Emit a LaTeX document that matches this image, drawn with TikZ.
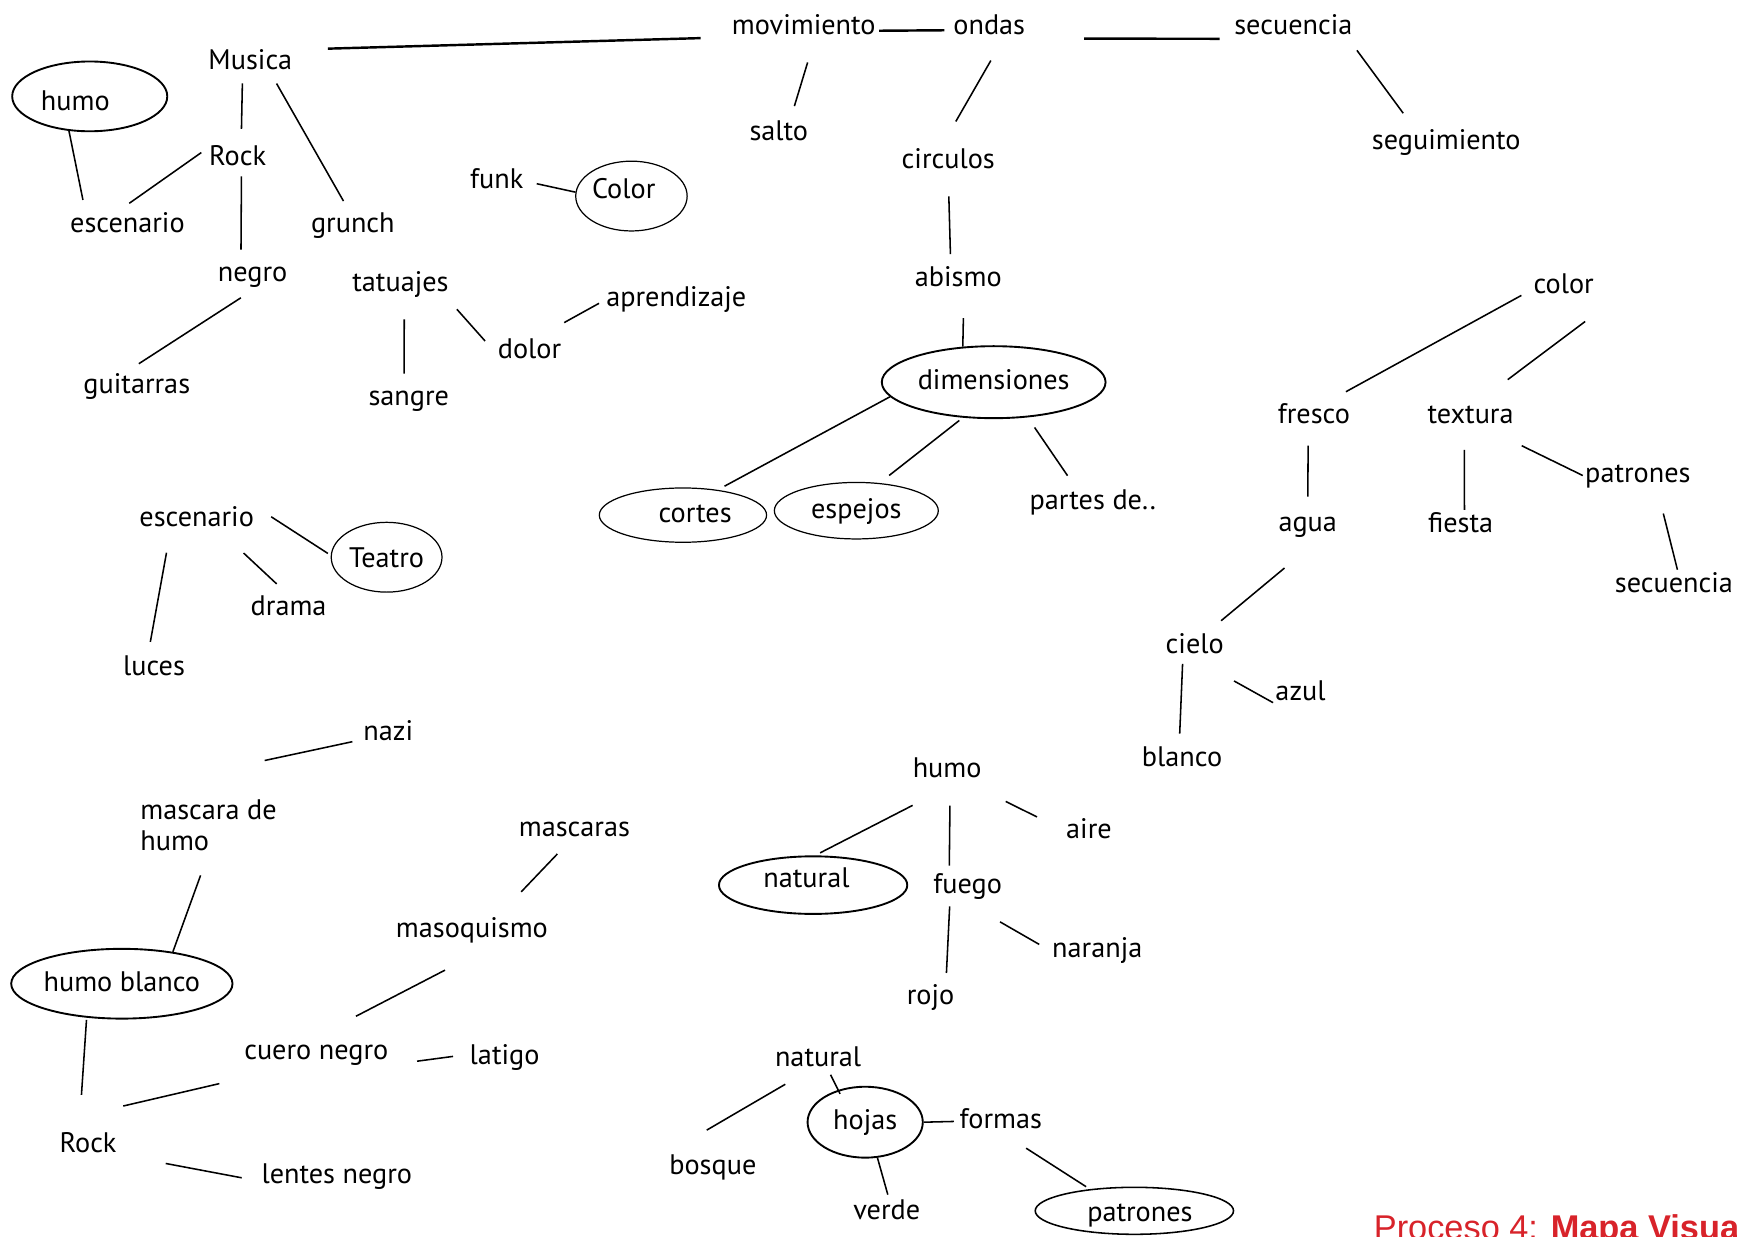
\documentclass[tikz,border=0pt]{standalone}
\usepackage{fontspec}
\setmainfont{PT Sans}
\newfontfamily\titlefont{Liberation Sans}
\usetikzlibrary{shapes.geometric}
\definecolor{titlered}{RGB}{216,35,42}

\tikzset{
	word/.style={font=\fontsize{25.5}{28.4}\selectfont, inner sep=2pt, text height=18.5pt, text depth=5pt, anchor=base},
	oval/.style={draw, ellipse, line width=1.1pt, inner sep=0pt, font=\fontsize{25.5}{28.4}\selectfont, text height=18.5pt, text depth=5pt},
	bold oval/.style={oval, line width=1.7pt},
	link/.style={line width=1.4pt},
	heavy/.style={line width=2.2pt}
}

\begin{document}
\begin{tikzpicture}[x=1pt, y=-1pt]
	\path[use as bounding box, fill=white] (0,0) rectangle (1568,1116);

	\node[word] (musica) at (226,63) {Musica};
	\node[bold oval, minimum width=140pt, minimum height=63pt, text height=31pt] (humo) at (81,87) {humo\hspace*{26pt}};
	\node[word] (rock) at (214.5,149) {Rock};
	\node[word] (escenario) at (115,210) {escenario};
	\node[word] (grunch) at (318.5,210) {grunch};
	\node[word] (negro) at (228,254) {negro};
	\node[word] (guitarras) at (123.5,355) {guitarras};
	\node[word] (tatuajes) at (361.5,263) {tatuajes};
	\node[word] (sangre) at (369,366) {sangre};
	\node[word] (dolor) at (478,324) {dolor};
	\node[word] (aprendizaje) at (610.5,277) {aprendizaje};
	\node[word] (funk) at (448.5,170) {funk};
	\node[oval, minimum width=93pt, minimum height=63pt, text depth=14pt] (colorb) at (570,177) {Color\hspace*{14pt}};

	\node[word] (movimiento) at (725.5,31) {movimiento};
	\node[word] (ondas) at (893,31) {ondas};
	\node[word] (secuencia) at (1167.5,31) {secuencia};
	\node[word] (salto) at (703,127) {salto};
	\node[word] (circulos) at (856,152) {circulos};
	\node[word] (seguimiento) at (1305.5,135) {seguimiento};
	\node[word] (abismo) at (865,259) {abismo};
	\node[bold oval, minimum width=202pt, minimum height=65pt] (dimensiones) at (897,345) {dimensiones};
	\node[oval, minimum width=151pt, minimum height=49pt] (cortes) at (616.5,465) {\hspace*{22pt}cortes};
	\node[oval, minimum width=148pt, minimum height=51pt] (espejos) at (773,461) {espejos};
	\node[word] (partes) at (986.5,460) {partes de..};

	\node[word] (color) at (1411.5,265) {color};
	\node[word] (fresco) at (1186,382) {fresco};
	\node[word] (textura) at (1327.5,382) {textura};
	\node[word] (agua) at (1180.5,480) {agua};
	\node[word] (fiesta) at (1318.5,481) {fiesta};
	\node[word] (patrones) at (1478.5,436) {patrones};
	\node[word] (secuencia2) at (1511,535) {secuencia};
	\node[word] (cielo) at (1078.5,590) {cielo};
	\node[word] (azul) at (1174,632) {azul};
	\node[word] (blanco) at (1067,692) {blanco};

	\node[word] (escenario2) at (177.5,475) {escenario};
	\node[oval, minimum width=100pt, minimum height=63pt, text height=23pt] (teatro) at (349,503) {Teatro};
	\node[word] (drama) at (260.5,556) {drama};
	\node[word] (luces) at (139,610) {luces};
	\node[word] (nazi) at (350.5,668) {nazi};
	\node[font=\fontsize{25.5}{28.4}\selectfont, inner sep=2pt, align=left, anchor=north west] (mascara) at (124.5,719.5) {mascara de\\humo};
	\node[bold oval, minimum width=198pt, minimum height=63pt] (humoblanco) at (110,888) {humo blanco};
	\node[word] (mascaras) at (518.5,755) {mascaras};
	\node[word] (masoquismo) at (426,846) {masoquismo};
	\node[word] (cuero) at (285.5,956) {cuero negro};
	\node[word] (latigo) at (455.5,961) {latigo};
	\node[word] (rock2) at (79.5,1040) {Rock};
	\node[word] (lentes) at (304,1068) {lentes negro};

	\node[word] (humo2) at (855,702) {humo};
	\node[word] (aire) at (983,757) {aire};
	\node[bold oval, minimum width=170pt, minimum height=52pt, text depth=14pt] (natural) at (734,799) {natural\hspace*{12pt}};
	\node[word] (fuego) at (873.5,807) {fuego};
	\node[word] (naranja) at (990.5,864) {naranja};
	\node[word] (rojo) at (840,907) {rojo};
	\node[word] (natural2) at (738.5,963) {natural};
	\node[bold oval, minimum width=104pt, minimum height=64pt] (hojas) at (781,1013) {hojas};
	\node[word] (formas) at (903.5,1019) {formas};
	\node[word] (bosque) at (643.5,1060) {bosque};
	\node[word] (verde) at (800.5,1101) {verde};
	\node[oval, line width=1.4pt, minimum width=179pt, minimum height=41pt, text height=25pt] (patrones2) at (1024,1093) {\hspace*{10pt}patrones};

	\node[anchor=base west, inner sep=0pt, font=\titlefont\fontsize{31}{31}\selectfont, text=titlered] (titulo) at (1240,1119) {Proceso 4: \textbf{Mapa Visua}};

	\path[heavy] (musica.16) edge[shorten <=30pt, shorten >=26pt] (movimiento.188);
	\path[heavy] (movimiento.-3) edge[shorten <=1pt, shorten >=6pt] (ondas.185);
	\path[heavy] (ondas.-17) edge[shorten <=51pt, shorten >=11pt] (secuencia.191);
	\path[link] (secuencia.-15) edge[shorten <=9pt, shorten >=15pt] (seguimiento.155);
	\path[link] (movimiento.-57) edge[shorten <=19pt, shorten >=11pt] (salto.52);
	\path[link] (ondas.-52) edge[shorten <=19pt, shorten >=25pt] (circulos.112);
	\path[link] (circulos.south) edge[shorten <=18pt, shorten >=9pt] (abismo.116);
	\path[link] (abismo.-70) edge[shorten <=21pt] (dimensiones.131);
	\path[link] (dimensiones.188) edge[shorten >=7pt] (cortes.36);
	\path[link] (dimensiones.229) edge[shorten <=4pt, shorten >=11pt] (espejos.50);
	\path[link] (dimensiones.-46) edge[shorten <=11pt, shorten >=12pt] (partes.139);

	\path[link] (color.187) edge[shorten <=10pt, shorten >=16pt] (fresco.43);
	\path[link] ([xshift=14pt]color.south east) edge[shorten <=30pt, shorten >=31pt] (textura.58);
	\path[link] (fresco.-110) edge[shorten <=13pt, shorten >=11pt] (agua.north);
	\path[link] (textura.-112) edge[shorten <=17pt] (fiesta.76);
	\path[link] (textura.-36) edge[shorten <=30pt] (patrones.west);
	\path[link] (patrones.-38) edge[shorten <=21pt] (secuencia2.77);
	\path[link] (agua.-55) edge[shorten <=40pt, shorten >=14pt] (cielo.47);
	\path[link] (cielo.-74) edge[shorten <=36pt] (azul.200);
	\path[link] (cielo.-128) edge[shorten <=2pt, shorten >=9pt] (blanco.100);

	\path[link] (musica.-117) edge[shorten <=5pt, shorten >=12pt] (rock.77);
	\path[link] (musica.-34) edge[shorten <=6pt, shorten >=9pt] (grunch.106);
	\path[link] (humo.-121) edge[shorten >=9pt] (escenario.160);
	\path[link] (rock.164) edge[shorten <=6pt, shorten >=10pt] (escenario.115);
	\path[link] (rock.-76) edge[shorten <=3pt, shorten >=8pt] (negro.127);
	\path[link] (negro.-85) edge[shorten <=14pt, shorten >=11pt] (guitarras.118);
	\path[link] (tatuajes.-76) edge[shorten <=18pt, shorten >=8pt] (sangre.107);
	\path[link] (tatuajes.-18) edge[shorten <=12pt, shorten >=14pt] (dolor.182);
	\path[link] (dolor.56) edge[shorten <=25pt, shorten >=5pt] (aprendizaje.181);
	\path[link] (funk.-1) edge[shorten <=10pt] (colorb.176);

	\path[link] (escenario2.11) edge[shorten <=16pt, shorten >=3pt] (teatro.178);
	\path[link] (escenario2.-30) edge[shorten <=25pt, shorten >=12pt] (drama.98);
	\path[link] (escenario2.210) edge[shorten <=17pt, shorten >=10pt] (luces.110);
	\path[link] (nazi.195) edge[shorten <=8pt] ([shift={(-13pt,33pt)}]mascara.north east);
	\path[link] (mascara.south) edge[shorten <=21pt] (humoblanco.32);
	\path[link] (humoblanco.224) edge[shorten <=2pt, shorten >=31pt] (rock2.120);
	\path[link] ([yshift=20pt]rock2.north east) edge[shorten <=4pt, shorten >=66pt] (cuero.211);
	\path[link] (rock2.-18) edge[shorten <=43pt, shorten >=16pt] (lentes.184);
	\path[link] (cuero.-10) edge[shorten <=24pt, shorten >=13pt] (latigo.176);
	\path[link] (cuero.85) edge[shorten <=39pt, shorten >=49pt] (masoquismo.-36);
	\path[link] (masoquismo.29) edge[shorten <=28pt, shorten >=12pt] (mascaras.243);

	\path[link] (humo2.-76) edge[shorten <=39pt, shorten >=5pt] (natural.86);
	\path[link] (humo2.-79) edge[shorten <=18pt, shorten >=5pt] (fuego.140);
	\path[link] (humo2.-30) edge[shorten <=32pt, shorten >=27pt] (aire.178);
	\path[link] (fuego.221) edge[shorten <=4pt, shorten >=8pt] (rojo.45);
	\path[link] (fuego.262) edge[shorten <=36pt, shorten >=11pt] (naranja.181);
	\path[link] (natural2.223) edge[shorten <=17pt, shorten >=38pt] (bosque.160);
	\path[link] (natural2.-51) edge[shorten >=-4pt] (hojas.130);
	\path[link] (hojas.east) edge[shorten >=3pt] (formas.west);
	\path[link] (hojas.-71) edge[shorten >=2pt] (verde.84);
	\path[link] (formas.-64) edge[shorten <=19pt, shorten >=4pt] (patrones2.154);
\end{tikzpicture}
\end{document}
